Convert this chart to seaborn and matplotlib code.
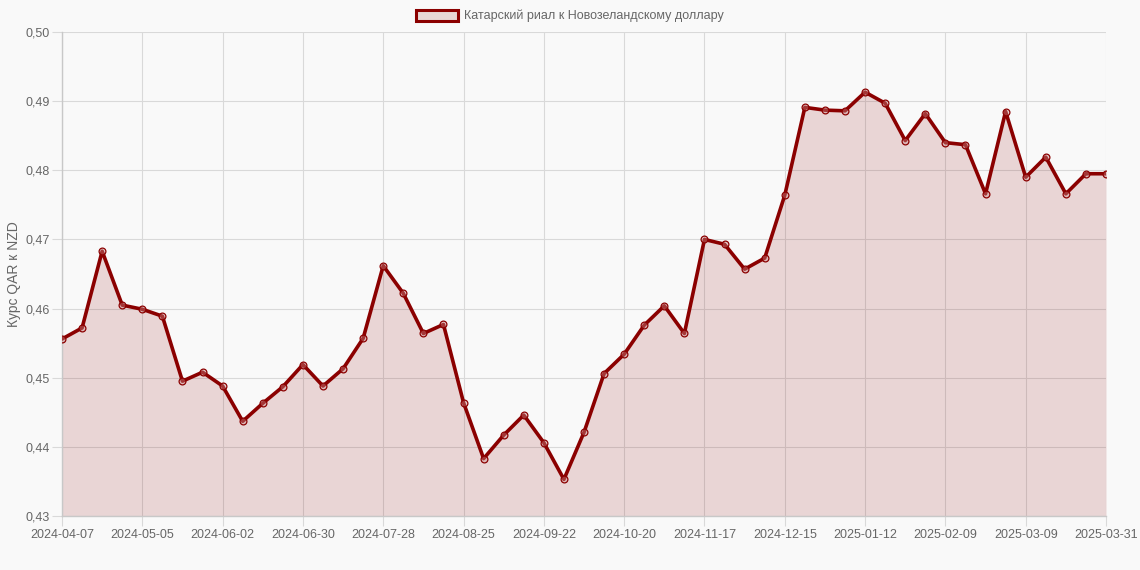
import matplotlib
matplotlib.use("Agg")
import matplotlib.pyplot as plt
from matplotlib.patches import Patch
import seaborn as sns
import pandas as pd
import numpy as np

dates = [
    "2024-04-07", "2024-04-14", "2024-04-21", "2024-04-28", "2024-05-05", "2024-05-12",
    "2024-05-19", "2024-05-26", "2024-06-02", "2024-06-09", "2024-06-16", "2024-06-23",
    "2024-06-30", "2024-07-07", "2024-07-14", "2024-07-21", "2024-07-28", "2024-08-04",
    "2024-08-11", "2024-08-18", "2024-08-25", "2024-09-01", "2024-09-08", "2024-09-15",
    "2024-09-22", "2024-09-29", "2024-10-06", "2024-10-13", "2024-10-20", "2024-10-27",
    "2024-11-03", "2024-11-10", "2024-11-17", "2024-11-24", "2024-12-01", "2024-12-08",
    "2024-12-15", "2024-12-22", "2024-12-29", "2025-01-05", "2025-01-12", "2025-01-19",
    "2025-01-26", "2025-02-02", "2025-02-09", "2025-02-16", "2025-02-23", "2025-03-02",
    "2025-03-09", "2025-03-16", "2025-03-23", "2025-03-30", "2025-03-31",
]
rates = [
    0.4556, 0.4572, 0.4683, 0.4605, 0.4599, 0.4589, 0.4495, 0.4508, 0.4488, 0.4437,
    0.4463, 0.4487, 0.4519, 0.4488, 0.4513, 0.4557, 0.4662, 0.4622, 0.4564, 0.4577,
    0.4464, 0.4383, 0.4417, 0.4446, 0.4406, 0.4353, 0.4421, 0.4506, 0.4534, 0.4576,
    0.4604, 0.4564, 0.4700, 0.4693, 0.4657, 0.4673, 0.4764, 0.4891, 0.4887, 0.4886,
    0.4913, 0.4897, 0.4843, 0.4882, 0.4840, 0.4837, 0.4766, 0.4885, 0.4790, 0.4819,
    0.4766, 0.4795, 0.4795,
]
series_label = "Катарский риал к Новозеландскому доллару"
y_label = "Курс QAR к NZD"
y_ticks = [0.43, 0.44, 0.45, 0.46, 0.47, 0.48, 0.49, 0.50]

df = pd.DataFrame({"date": dates, "rate": rates})
df["idx"] = np.arange(len(df))

sns.set_theme(style="white")
plt.rcParams["font.family"] = ["Liberation Sans", "DejaVu Sans"]

line_color = "#8b0000"
fill_rgba = (139 / 255, 0, 0, 0.14)
bg = "#f9f9f9"

fig = plt.figure(figsize=(11.4, 5.7), dpi=100, facecolor=bg)
ax = fig.add_axes([62 / 1140, 1 - 516 / 570, (1106 - 62) / 1140, (516 - 32) / 570])
ax.set_facecolor(bg)

ax.fill_between(df["idx"], df["rate"], 0.43, color=fill_rgba, zorder=1, linewidth=0)
sns.lineplot(data=df, x="idx", y="rate", ax=ax, color=line_color, linewidth=2.6,
             zorder=3, legend=False)
ax.scatter(df["idx"], df["rate"], s=24, facecolor=(0.8, 0.55, 0.55, 0.4),
           edgecolor=line_color, linewidth=0.9, zorder=4)

ax.set_xlim(0, len(df) - 1)
ax.set_ylim(0.43, 0.50)

tick_idx = list(range(0, len(df) - 1, 4)) + [len(df) - 1]
ax.set_xticks(tick_idx)
ax.set_xticklabels([dates[i] for i in tick_idx])
ax.set_yticks(y_ticks)
ax.set_yticklabels([f"{v:.2f}".replace(".", ",") for v in y_ticks])

ax.grid(True, color="#d9d9d9", linewidth=0.8, zorder=0)
ax.set_axisbelow(True)
for s in ["top", "right"]:
    ax.spines[s].set_visible(False)
for s in ["left", "bottom"]:
    ax.spines[s].set_color("#c8c8c8")
    ax.spines[s].set_linewidth(1.0)
ax.tick_params(axis="both", colors="#666666", labelsize=9, length=7, width=0.8,
               color="#d9d9d9", pad=2, bottom=True, left=True)

ax.set_xlabel("")
ax.set_ylabel(y_label, color="#666666", fontsize=10, labelpad=3)

handle = Patch(facecolor="#e8d7d5", edgecolor=line_color, linewidth=2.2)
fig.legend([handle], [series_label], loc="upper center",
           bbox_to_anchor=(0.5, 1.003), frameon=False, fontsize=9,
           handlelength=3.4, handleheight=1.0, handletextpad=0.5,
           labelcolor="#666666")

fig.savefig("out.png", dpi=100, facecolor=bg)
